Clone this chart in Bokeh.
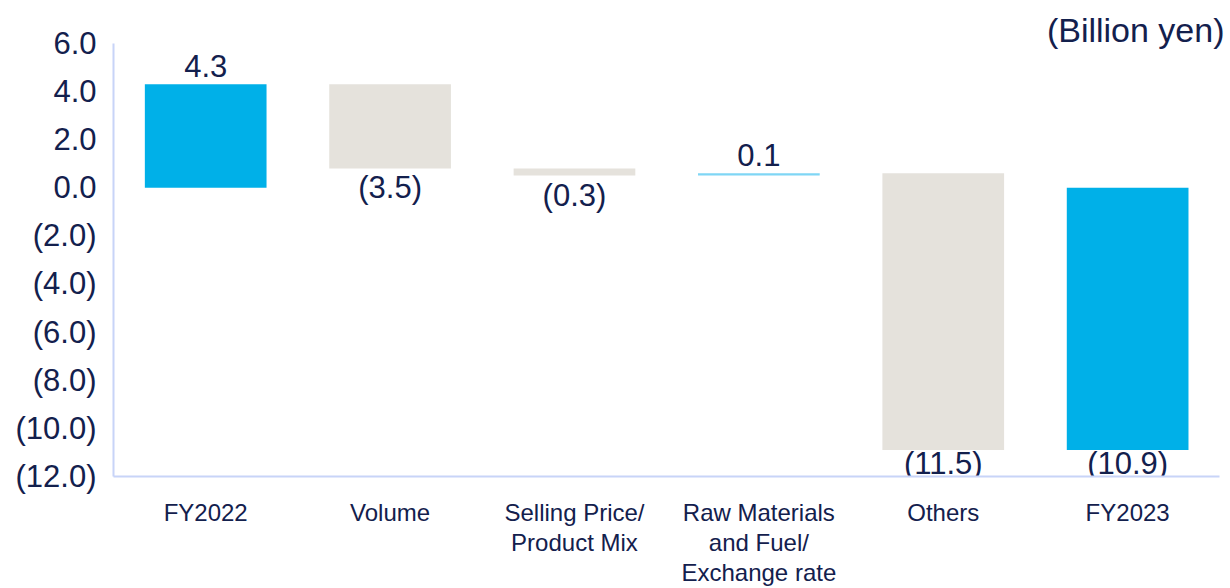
from bokeh.plotting import figure
from bokeh.models import Range1d, FixedTicker, Label, ColumnDataSource
from bokeh.embed import file_html
from bokeh.resources import INLINE
from bokeh.core.properties import value

# ---- data ----
categories = ["FY2022", "Volume", "Selling Price/\nProduct Mix",
              "Raw Materials\nand Fuel/\nExchange rate", "Others", "FY2023"]
changes = [4.3, -3.5, -0.3, 0.1, -11.5, -10.9]
is_total = [True, False, False, False, False, True]
y_ticks = [-12, -10, -8, -6, -4, -2, 0, 2, 4, 6]
unit_label = "(Billion yen)"

BLUE = "#00B0E8"
GREY = "#E5E2DC"
LIGHTBLUE = "#7FD6F5"
TEXT = "#13204D"
AXIS = "#C8D4F8"
FONT = "Liberation Sans"

# waterfall geometry
bottoms, tops, colors = [], [], []
running = 0.0
for v, tot in zip(changes, is_total):
    if tot:
        b, t = 0.0, v
        running = v
    else:
        b, t = running, running + v
        running = t
    bottoms.append(b)
    tops.append(t)
    if tot:
        colors.append(BLUE)
    elif v > 0:
        colors.append(LIGHTBLUE)
    else:
        colors.append(GREY)

def fmt(v):
    return f"({abs(v):.1f})" if v < 0 else f"{v:.1f}"

xs = list(range(len(categories)))
src = ColumnDataSource(dict(x=xs, bottom=bottoms, top=tops, color=colors))

# label anchors: above for positive, below for negative
lab_y, lab_base, lab_off = [], [], []
for v, b, t in zip(changes, bottoms, tops):
    if v >= 0:
        lab_y.append(max(b, t)); lab_base.append("bottom"); lab_off.append(-7)
    else:
        end = min(b, t)
        lab_y.append(end); lab_base.append("top")
        lab_off.append(-4 if end < -10 else 2)
lsrc = ColumnDataSource(dict(x=xs, y=lab_y, text=[fmt(v) for v in changes],
                             base=lab_base, off=lab_off))

y_lo, y_hi = min(y_ticks), max(y_ticks)
p = figure(width=1230, height=588, output_backend="svg", toolbar_location=None,
           x_range=Range1d(-0.5, len(categories) - 0.453),
           y_range=Range1d(y_lo, y_hi + 1.775),
           min_border_left=113, min_border_right=2, min_border_top=0,
           min_border_bottom=109)
p.outline_line_color = None
p.background_fill_color = "white"
p.border_fill_color = "white"
p.grid.visible = False

p.vbar(x="x", bottom="bottom", top="top", width=0.66, fill_color="color",
       line_color=None, source=src)

p.text(x="x", y="y", text="text", text_baseline="base", y_offset="off",
       text_align="center", text_color=TEXT, text_font=value(FONT),
       text_font_size="31px", source=lsrc)

# y axis
ya = p.yaxis[0]
ya.bounds = (y_lo, y_hi)
ya.ticker = FixedTicker(ticks=y_ticks)
ya.major_label_overrides = {t: fmt(float(t)) for t in y_ticks}
ya.major_tick_line_color = None
ya.minor_tick_line_color = None
ya.major_tick_out = 0
ya.major_label_standoff = 17
ya.axis_line_color = AXIS
ya.axis_line_width = 2
ya.major_label_text_font = FONT
ya.major_label_text_font_size = "31px"
ya.major_label_text_color = TEXT

# x axis
xa = p.xaxis[0]
xa.bounds = (-0.5, len(categories) - 0.5)
xa.ticker = FixedTicker(ticks=xs)
xa.major_label_overrides = {i: c for i, c in zip(xs, categories)}
xa.major_tick_line_color = None
xa.minor_tick_line_color = None
xa.major_tick_out = 0
xa.major_label_standoff = 22
xa.axis_line_color = AXIS
xa.axis_line_width = 2
xa.major_label_text_font = FONT
xa.major_label_text_font_size = "24px"
xa.major_label_text_color = TEXT
xa.major_label_text_line_height = 1.12

p.add_layout(Label(x=len(categories) - 0.453, y=y_hi, text=unit_label, y_offset=13,
                   x_offset=-4, text_align="right", text_baseline="middle",
                   text_font=FONT, text_font_size="34px", text_color=TEXT))

open("out.html", "w").write(file_html(p, INLINE))
